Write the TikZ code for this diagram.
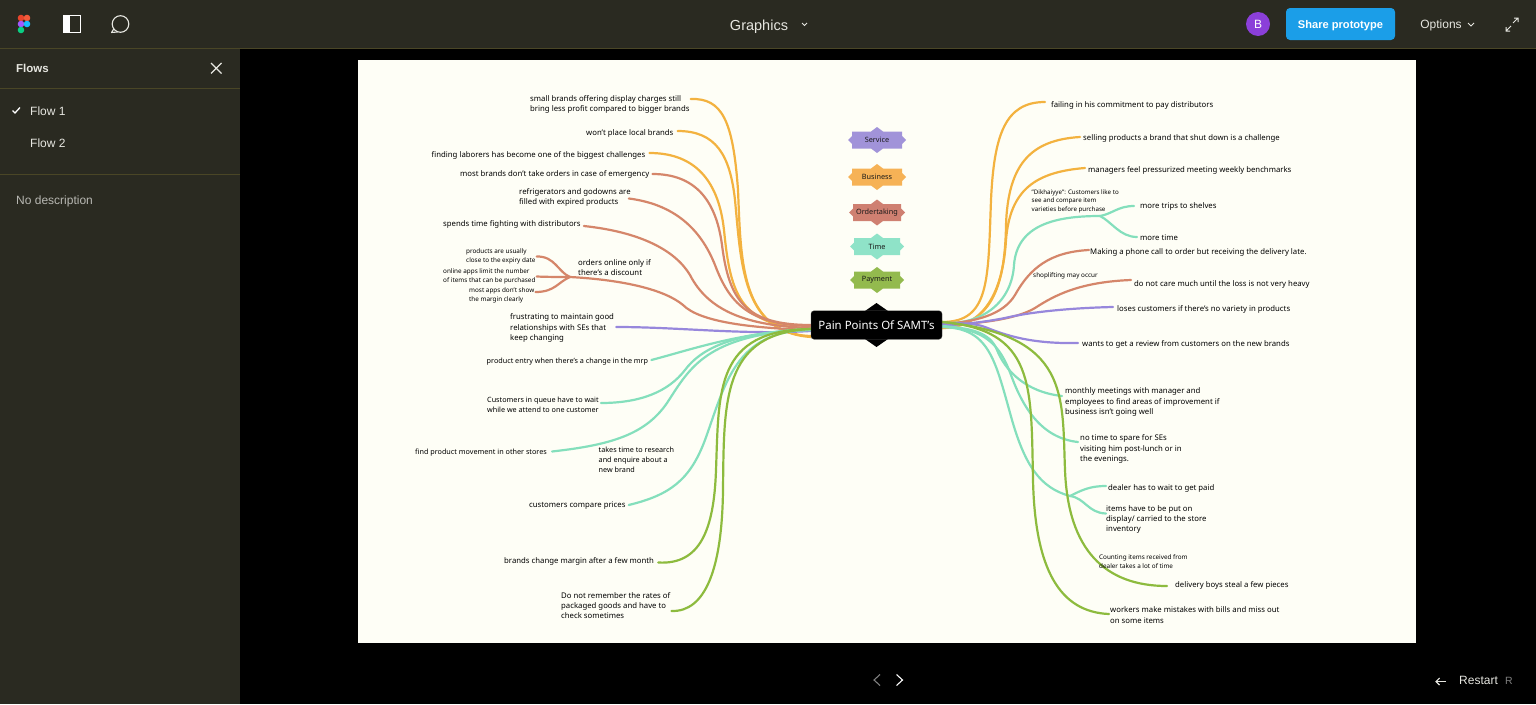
\documentclass[tikz,border=0pt]{standalone}
\usepackage{fontspec}
\setmainfont{Noto Sans}
\newfontfamily\ui{Liberation Sans}
\pgfdeclarelayer{bg}\pgfdeclarelayer{wires}\pgfsetlayers{bg,wires,main}
\definecolor{chrome}{HTML}{2A2A21}
\definecolor{rule}{HTML}{4A4626}
\definecolor{paper}{HTML}{FEFEF6}
\definecolor{cO}{HTML}{F3B23F}
\definecolor{cR}{HTML}{D5866A}
\definecolor{cP}{HTML}{9787DC}
\definecolor{cT}{HTML}{84DFBC}
\definecolor{cG}{HTML}{8DBB3E}
\definecolor{fO}{HTML}{F6B256}
\definecolor{fR}{HTML}{CF8071}
\definecolor{fP}{HTML}{A193D9}
\definecolor{fT}{HTML}{8FE3C8}
\definecolor{fG}{HTML}{93BA4E}
\definecolor{uitext}{HTML}{E6E6E0}
\tikzset{
 lbl/.style={font=\fontsize{7.76}{10.4}\selectfont,text=black,inner sep=1pt,align=left,anchor=west,yshift=-1pt},
 lblmid/.style={lbl,font=\fontsize{7.23}{9.9}\selectfont},
 lblsm/.style={lbl,font=\fontsize{6.35}{8.9}\selectfont},
 wire/.style={line width=2.2pt,line cap=round,line join=round},
 wO/.style={wire,draw=cO}, wR/.style={wire,draw=cR}, wP/.style={wire,draw=cP},
 wT/.style={wire,draw=cT}, wG/.style={wire,draw=cG},
 lgtext/.style={font=\fontsize{7.3}{8}\selectfont,text=black!90,inner sep=0pt},
 uilbl/.style={font=\ui\fontsize{12}{14}\selectfont,text=uitext,inner sep=0pt,text height=8.6pt,text depth=0pt},
 icon/.style={draw=uitext,line width=1.1pt}
}
\newcommand{\lgnd}[7]{% name cx cy hw tipx colour text
 \fill[#6] (#2,#3-13) -- (#2+6,#3-8.5) -- (#2+#4,#3-8.5) -- (#2+#4,#3-4) -- (#2+#5,#3) -- (#2+#4,#3+4)
   -- (#2+#4,#3+8.5) -- (#2+6,#3+8.5) -- (#2,#3+13) -- (#2-6,#3+8.5) -- (#2-#4,#3+8.5) -- (#2-#4,#3+4)
   -- (#2-#5,#3) -- (#2-#4,#3-4) -- (#2-#4,#3-8.5) -- (#2-6,#3-8.5) -- cycle;
 \node[lgtext] (#1) at (#2,#3) {#7};
}
\begin{document}
\begin{tikzpicture}[x=1pt,y=-1pt]
\useasboundingbox (0,0) rectangle (1536,704);
\begin{pgfonlayer}{bg}
\fill[black] (0,0) rectangle (1536,704);
\fill[chrome] (0,0) rectangle (1536,48);
\fill[chrome] (0,48) rectangle (240,704);
\draw[rule,line width=0.8pt] (0,48.5) -- (1536,48.5);
\draw[rule,line width=0.8pt] (0,88.5) -- (240,88.5);
\draw[rule,line width=0.8pt] (0,174.5) -- (240,174.5);
\fill[paper] (358,60) rectangle (1416,643);
\end{pgfonlayer}

% --- top bar ---
\definecolor{fa}{HTML}{E8452C}\definecolor{fb}{HTML}{F2593A}\definecolor{fc}{HTML}{A259FF}\definecolor{fd}{HTML}{1ABCFE}\definecolor{fe}{HTML}{0ACF83}
\fill[fa] (21,18) circle (3.3);
\fill[fb] (27,18) circle (3.3);
\fill[fc] (21,24) circle (3.3);
\fill[fd] (27,24) circle (3.3);
\fill[fe] (21,30) circle (3.3);
\fill[white] (63,15) rectangle (70,33);
\draw[white,line width=1.1pt] (63.5,15.5) rectangle (80.5,32.5);
\draw[icon,line join=round] (120.5,24) circle (8.3);
\draw[icon,line join=round] (113.8,29) -- (111.5,32.5) -- (117.5,32);
\node[uilbl,font=\ui\fontsize{14.5}{16}\selectfont,text height=10.4pt] (title) at (759,25) {Graphics};
\draw[icon,line width=1pt] (802,23) -- (804.5,25.5) -- (807,23);
\definecolor{avpurple}{HTML}{8B3FD9}\definecolor{shareblue}{HTML}{1B9EE8}
\node[circle,fill=avpurple,minimum size=24pt,inner sep=0pt,text=white,font=\ui\fontsize{12}{14}\selectfont] (avatar) at (1258,24) {B};
\node[fill=shareblue,rounded corners=4pt,minimum width=109pt,minimum height=32pt,inner sep=0pt,text=white,text height=8.4pt,text depth=0pt,font=\ui\bfseries\fontsize{11.1}{14}\selectfont] (share) at (1340.5,24) {Share prototype};
\node[uilbl] (opts) at (1441,24) {Options};
\draw[icon,line width=1pt] (1468,23) -- (1471,26) -- (1474,23);
\draw[icon,line width=1pt] (1506,31) -- (1511,26) (1506,27) -- (1506,31) -- (1510,31);
\draw[icon,line width=1pt] (1518,18) -- (1513,23) (1514,18) -- (1518,18) -- (1518,22);
% --- side panel ---
\node[uilbl,anchor=west,font=\ui\bfseries\fontsize{11.5}{14}\selectfont] (flows) at (16,68) {Flows};
\draw[icon] (211,63) -- (221.5,73.5) (221.5,63) -- (211,73.5);
\draw[white,line width=1.3pt] (12.5,110.5) -- (15,113) -- (20,107.5);
\node[uilbl,anchor=west] (flow1) at (30,111) {Flow 1};
\node[uilbl,anchor=west] (flow2) at (30,143) {Flow 2};
\node[uilbl,anchor=west,text=uitext!80!black] (nodesc) at (16,200) {No description};
% --- bottom bar ---
\draw[gray,line width=1.1pt] (880,674.5) -- (874,680) -- (880,685.5);
\draw[white,line width=1.1pt] (896.5,674.5) -- (902.5,680) -- (896.5,685.5);
\draw[icon] (1446,681.5) -- (1436,681.5);
\draw[icon] (1439.5,678) -- (1436,681.5) -- (1439.5,685);
\node[uilbl,anchor=west] (restart) at (1459,680) {Restart};
\node[uilbl,anchor=west,text=gray,font=\ui\fontsize{10.5}{12}\selectfont,text height=7.5pt] (rkey) at (1505,680.5) {R};

% --- legend ---
\lgnd{lgS}{877}{140}{25}{29}{fP}{Service}
\lgnd{lgB}{877}{177}{25}{29}{fO}{Business}
\lgnd{lgU}{877}{212.5}{24}{28}{fR}{Ordertaking}
\lgnd{lgT}{877}{246.5}{23}{27}{fT}{Time}
\lgnd{lgY}{877}{280}{23}{27}{fG}{Payment}

% --- hub ---
\fill[black] (865,311) -- (876.5,303) -- (888,311) -- cycle;
\fill[black] (865,339) -- (876.5,347) -- (888,339) -- cycle;
\node[fill=black,draw=black!70,line width=0.3pt,rounded corners=3pt,minimum width=131pt,minimum height=28.5pt,inner sep=0pt,text=white,font=\fontsize{11.45}{13}\selectfont] (hub) at (876.5,325) {Pain Points Of SAMT's};

% --- left labels ---
\node[lbl] (l1) at (529,103.5) {small brands offering display charges still\\bring less profit compared to bigger brands};
\node[lbl] (l2) at (585,132) {won't place local brands};
\node[lbl] (l3) at (430.5,154) {finding laborers has become one of the biggest challenges};
\node[lbl] (l4) at (459,173) {most brands don't take orders in case of emergency};
\node[lbl] (l5) at (518,196.5) {refrigerators and godowns are\\filled with expired products};
\node[lbl] (l6) at (442,223.5) {spends time fighting with distributors};
\node[lblsm] (l7a) at (465,255.5) {products are usually\\close to the expiry date};
\node[lblsm] (l7b) at (442,275.5) {online apps limit the number\\of items that can be purchased};
\node[lblsm] (l7c) at (468,294.5) {most apps don't show\\the margin clearly};
\node[lbl] (l7) at (577,266.5) {orders online only if\\there's a discount};
\node[lbl] (l8) at (509,327) {frustrating to maintain good\\relationships with SEs that\\keep changing};
\node[lblmid] (l9) at (485.5,360.5) {product entry when there's a change in the mrp};
\node[lblmid] (l10) at (486,404) {Customers in queue have to wait\\while we attend to one customer};
\node[lblmid] (l11) at (414,451.5) {find product movement in other stores};
\node[lblmid] (l11b) at (597.5,458.5) {takes time to research\\and enquire about a\\new brand};
\node[lbl] (l12) at (528,505) {customers compare prices};
\node[lbl] (l13) at (503,560.5) {brands change margin after a few month};
\node[lbl] (l14) at (560,604.5) {Do not remember the rates of\\packaged goods and have to\\check sometimes};

% --- right labels ---
\node[lbl] (r1) at (1050,104) {failing in his commitment to pay distributors};
\node[lbl] (r2) at (1082,137) {selling products a brand that shut down is a challenge};
\node[lbl] (r3) at (1087,169) {managers feel pressurized meeting weekly benchmarks};
\node[lblsm,font=\fontsize{6.2}{8.6}\selectfont] (r4) at (1030.5,200) {"Dikhaiyye": Customers like to\\see and compare item\\varieties before purchase};
\node[lbl] (r4a) at (1139,205) {more trips to shelves};
\node[lbl] (r4b) at (1139,237) {more time};
\node[lbl] (r5) at (1089,251) {Making a phone call to order but receiving the delivery late.};
\node[lblsm] (r5b) at (1032,274.5) {shoplifting may occur};
\node[lbl] (r6) at (1133,283) {do not care much until the loss is not very heavy};
\node[lbl] (r7) at (1116,308) {loses customers if there's no variety in products};
\node[lbl] (r8) at (1081,343) {wants to get a review from customers on the new brands};
\node[lbl] (r9) at (1064,401) {monthly meetings with manager and\\employees to find areas of improvement if\\business isn't going well};
\node[lbl] (r10) at (1079,448) {no time to spare for SEs\\visiting him post-lunch or in\\the evenings.};
\node[lbl] (r11a) at (1107,487) {dealer has to wait to get paid};
\node[lbl] (r11b) at (1105,518.5) {items have to be put on\\display/ carried to the store\\inventory};
\node[lblsm] (r12b) at (1098,560.5) {Counting items received from\\dealer takes a lot of time};
\node[lbl] (r12) at (1174,584) {delivery boys steal a few pieces};
\node[lbl] (r13) at (1109,614) {workers make mistakes with bills and miss out\\on some items};

\coordinate (jl) at (570,277);
\coordinate (jr1) at (1100,216);
\coordinate (jr2) at (1070,496);

\begin{pgfonlayer}{wires}
% left, orange
\draw[wO] ([yshift=5.5pt]l1.east) .. controls (722,98) and (733,120) .. (738,190) .. controls (741,260) and (740,332) .. ([yshift=-12pt]hub.west);
\draw[wO] ([xshift=3pt,yshift=2pt]l2.east) .. controls (716,131) and (730,155) .. (735,200) .. controls (741,262) and (742,334) .. ([yshift=-11pt]hub.west);
\draw[wO] ([xshift=3pt,yshift=2pt]l3.east) .. controls (690,153) and (718,175) .. (724,230) .. controls (730,290) and (738,328) .. ([yshift=-3pt]hub.west);
% left, red
\draw[wR] ([xshift=2pt]l4.east) .. controls (695,174) and (716,200) .. (722,245) .. controls (729,300) and (745,325) .. (hub.west);
\draw[wR] ([xshift=-3pt,yshift=-1pt]l5.east) .. controls (680,205) and (703,235) .. (715,265) .. controls (729,302) and (748,325) .. ([yshift=-1pt]hub.west);
\draw[wR] ([xshift=2pt,yshift=-1.5pt]l6.east) .. controls (640,232) and (675,250) .. (690,275) .. controls (708,310) and (745,326) .. ([yshift=-3pt]hub.west);
\draw[wR] (jl) .. controls (625,280) and (665,290) .. (683,305) .. controls (700,322) and (750,328) .. ([yshift=-5pt]hub.west);
\draw[wR] (l7a.east) .. controls (555,256) and (558,272) .. (jl);
\draw[wR] (l7b.east) .. controls (548,277) and (560,277) .. (jl);
\draw[wR] ([yshift=3.5pt]l7c.east) .. controls (555,292) and (558,282) .. (jl);
% left, purple
\draw[wP] ([xshift=1pt,yshift=1pt]l8.east) .. controls (680,327) and (740,335) .. ([yshift=-6pt]hub.west);
% left, teal
\draw[wT] ([xshift=2pt,yshift=1.5pt]l9.east) .. controls (690,350) and (740,332) .. ([yshift=-4pt]hub.west);
\draw[wT] ([xshift=1pt,yshift=2pt]l10.east) .. controls (640,403) and (668,392) .. (685,370) .. controls (700,350) and (730,332) .. ([yshift=-5pt]hub.west);
\draw[wT] ([xshift=4pt,yshift=1pt]l11.east) .. controls (610,445) and (645,435) .. (667,403) .. controls (690,368) and (705,335) .. ([yshift=-4pt]hub.west);
\draw[wT] ([xshift=2pt,yshift=1pt]l12.east) .. controls (670,495) and (690,480) .. (705,440) .. controls (725,385) and (735,330) .. ([yshift=-5pt]hub.west);
% left, green
\draw[wG] ([xshift=3pt,yshift=-1pt]l13.east) .. controls (700,565) and (714,530) .. (716,470) .. controls (719,390) and (715,330) .. ([yshift=-4pt]hub.west);
\draw[wG] ([yshift=-5.5pt]l14.east) .. controls (705,612) and (722,570) .. (723,490) .. controls (724,400) and (722,333) .. ([yshift=-4pt]hub.west);
% right, orange
\draw[wO] ([xshift=-5pt,yshift=3pt]r1.west) .. controls (1005,102) and (994,135) .. (991,200) .. controls (988,280) and (990,322) .. ([yshift=3pt]hub.east);
\draw[wO] ([xshift=-2pt,yshift=1pt]r2.west) .. controls (1030,140) and (1008,165) .. (1006,225) .. controls (1005,290) and (990,325) .. ([yshift=-3pt]hub.east);
\draw[wO] ([xshift=-2pt,yshift=2pt]r3.west) .. controls (1035,172) and (1010,190) .. (1006,240) .. controls (1003,290) and (985,328) .. ([yshift=-3pt]hub.east);
% right, teal / red / purple
\draw[wT] (jr1) .. controls (1055,216) and (1017,225) .. (1014,265) .. controls (1012,300) and (985,325) .. ([yshift=2pt]hub.east);
\draw[wT] (jr1) .. controls (1112,214) and (1118,206) .. ([xshift=-5pt]r4a.west);
\draw[wT] (jr1) .. controls (1112,222) and (1120,237) .. ([xshift=-2pt,yshift=1pt]r4b.west);
\draw[wR] ([yshift=2pt]r5.west) .. controls (1050,252) and (1030,268) .. (1015,295) .. controls (1003,315) and (975,322) .. ([yshift=1pt]hub.east);
\draw[wR] ([xshift=-2pt,yshift=4pt]r6.west) .. controls (1080,282) and (1055,295) .. (1035,308) .. controls (1015,320) and (975,324) .. (hub.east);
\draw[wP] ([xshift=-3pt,yshift=2pt]r7.west) .. controls (1070,308) and (1030,312) .. (1005,318) .. controls (985,322) and (960,325) .. (hub.east);
\draw[wP] ([xshift=-3pt,yshift=1pt]r8.west) .. controls (1030,344) and (1005,335) .. (985,327) .. controls (975,323) and (955,323) .. ([yshift=2pt]hub.east);
\draw[wT] ([xshift=-2pt,yshift=6pt]r9.west) .. controls (1025,392) and (1005,370) .. (997,350) .. controls (990,332) and (970,328) .. ([yshift=-1pt]hub.east);
\draw[wT] ([xshift=-1pt,yshift=7pt]r10.west) .. controls (1040,438) and (1022,405) .. (1011,375) .. controls (1000,345) and (985,328) .. ([yshift=-2pt]hub.east);
\draw[wT] (jr2) .. controls (1040,488) and (1025,465) .. (1012,420) .. controls (995,360) and (990,328) .. ([yshift=-2pt]hub.east);
\draw[wT] (jr2) .. controls (1082,490) and (1090,486) .. ([xshift=-1pt,yshift=2pt]r11a.west);
\draw[wT] (jr2) .. controls (1085,498) and (1088,513) .. ([xshift=1pt,yshift=6pt]r11b.west);
% right, green
\draw[wG] ([xshift=-7pt,yshift=-1pt]r12.west) .. controls (1105,586) and (1068,550) .. (1065,470) .. controls (1062,395) and (1070,335) .. ([yshift=3pt]hub.east);
\draw[wG] ([yshift=1pt]r13.west) .. controls (1060,612) and (1035,570) .. (1033,480) .. controls (1031,385) and (1035,330) .. ([yshift=3pt]hub.east);
\end{pgfonlayer}
\end{tikzpicture}
\end{document}
